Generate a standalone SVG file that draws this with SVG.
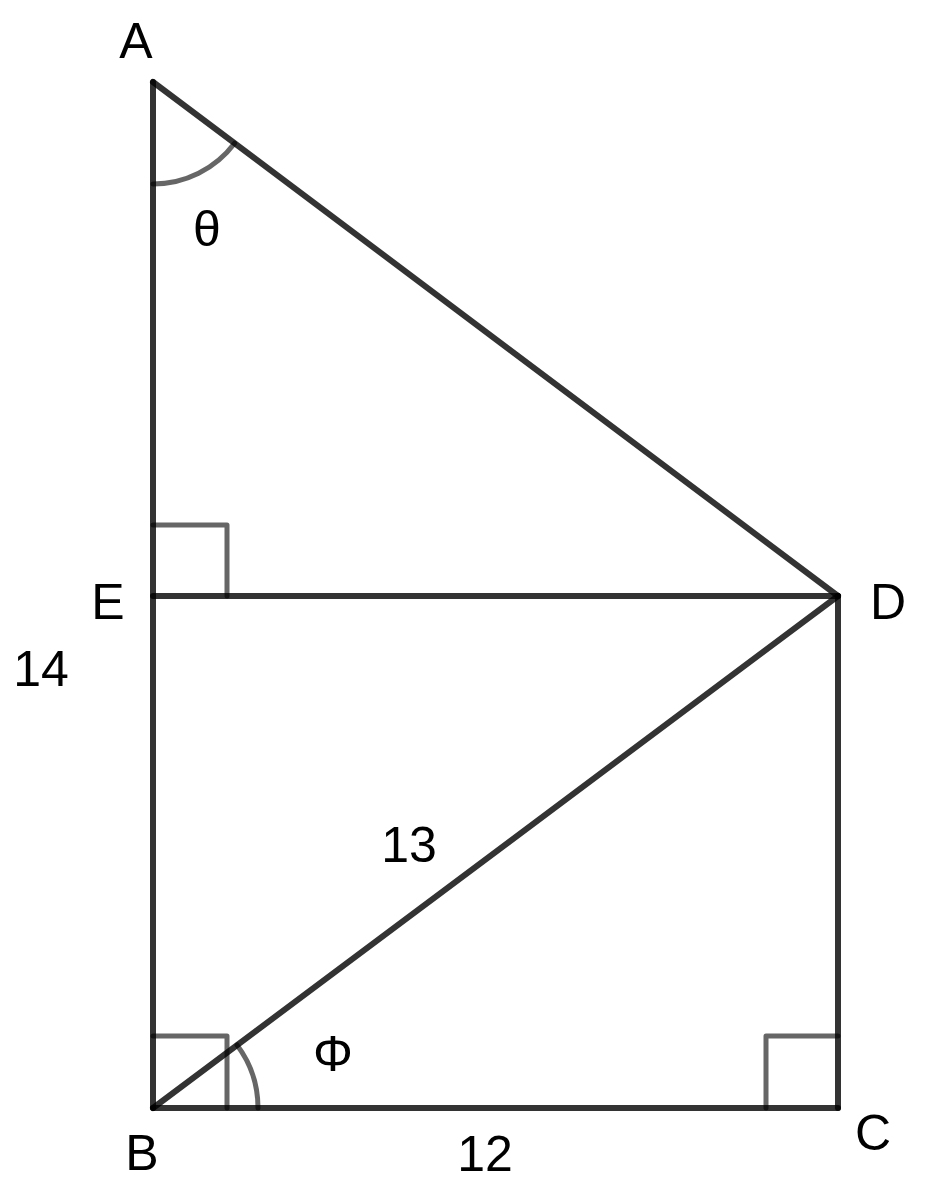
<svg xmlns="http://www.w3.org/2000/svg" width="926" height="1200" viewBox="0 0 926 1200">
<style>
.seg{stroke:#000;stroke-opacity:0.8;stroke-width:6;stroke-linecap:round;stroke-linejoin:round;fill:none}
.mark{stroke:#000;stroke-opacity:0.6;stroke-width:5;stroke-linecap:round;stroke-linejoin:round;fill:none}
.lbl{font-family:"Liberation Sans",Arial,sans-serif;font-size:50px;fill:#000;text-anchor:middle}
</style>
<rect width="926" height="1200" fill="#fff"/>
<g id="marks">
<path class="mark" d="M153,184 A102,102 0 0 0 234.6,143.2"/>
<path class="mark" d="M258,1108 A105,105 0 0 0 237,1045"/>
<path class="mark" d="M153,1036 H227 V1108"/>
<path class="mark" d="M766,1108 V1036 H838"/>
<path class="mark" d="M153,525 H227 V596"/>
</g>
<g id="connectors">
<line class="seg" x1="153" y1="82" x2="153" y2="1108"/>
<line class="seg" x1="153" y1="1108" x2="838" y2="1108"/>
<line class="seg" x1="838" y1="1108" x2="838" y2="596"/>
<line class="seg" x1="153" y1="82" x2="838" y2="596"/>
<line class="seg" x1="153" y1="596" x2="838" y2="596"/>
<line class="seg" x1="153" y1="1108" x2="838" y2="596"/>
</g>
<g id="A"><text class="lbl" x="136" y="58">A</text></g>
<g id="B"><text class="lbl" x="142" y="1170">B</text></g>
<g id="C"><text class="lbl" x="873" y="1150">C</text></g>
<g id="D"><text class="lbl" x="888" y="619">D</text></g>
<g id="E"><text class="lbl" x="108" y="619">E</text></g>
<g id="labels">
<text class="lbl" x="207" y="246">θ</text>
<text class="lbl" x="333" y="1071">Φ</text>
<text class="lbl" x="41" y="686">14</text>
<text class="lbl" x="409" y="862">13</text>
<text class="lbl" x="485" y="1171">12</text>
</g>
</svg>
